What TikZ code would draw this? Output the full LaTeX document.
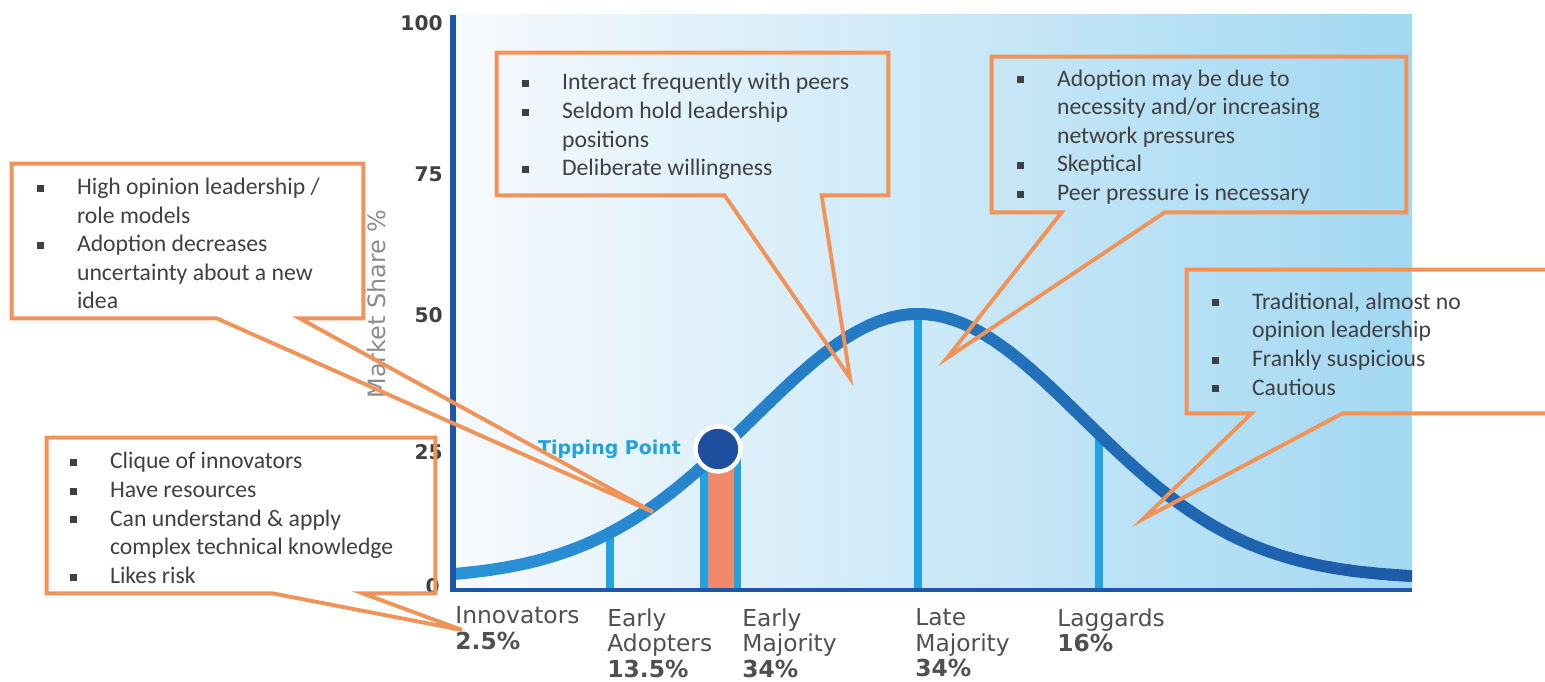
\documentclass[tikz,border=0pt]{standalone}
\usepackage{fontspec}
\setmainfont{Carlito}
\newfontfamily\chartfont{DejaVu Sans}
\usepackage{tikz}
\usetikzlibrary{calc,fit,positioning}

\definecolor{callorange}{HTML}{F19256}
\definecolor{calltext}{HTML}{404040}
\definecolor{axisblue}{HTML}{1F57A8}
\definecolor{linecyan}{HTML}{22A2DE}
\definecolor{curveL}{HTML}{2A93D8}
\definecolor{curveR}{HTML}{1D5AA8}
\definecolor{bgL}{HTML}{F7FAFD}
\definecolor{bgR}{HTML}{A2D8F2}
\definecolor{tipblue}{HTML}{1E4E9E}
\definecolor{tipbar}{HTML}{F0896A}
\definecolor{labelgray}{HTML}{505050}

\newcommand{\bul}{\makebox[22.8pt][l]{\raisebox{1.6pt}{\rule{4pt}{4pt}}}}
\newcommand{\ind}{\makebox[22.8pt]{}}

\begin{document}
\begin{tikzpicture}[x=0.02cm, y=-0.02cm,
    declare function={bell(\t)=579-265*exp(-1*((\t-918)/100)^2/5.435);},
    callout/.style={draw=callorange, line width=2.2pt, line join=miter},
    box/.style={inner sep=0pt},
    calltxt/.style={anchor=west, inner sep=0pt, align=left, text=calltext, xshift=0.5cm, yshift=-0.05cm,
      font=\fontsize{13.5}{16.3}\selectfont},
    catlabel/.style={anchor=north west, inner sep=0pt, align=left, text=labelgray,
      font=\chartfont\fontsize{13.3}{14.6}\selectfont},
    ytick/.style={anchor=east, inner sep=0pt, text=black!75,
      font=\chartfont\bfseries\fontsize{11.5}{12}\selectfont},
    curve/.style={line width=6.8pt, line cap=round},
    bar/.style={linecyan, line width=4pt}]

    \useasboundingbox (0,0) rectangle (1545,682);
    \fill[white] (0,0) rectangle (1545,682);
    \clip (0,0) rectangle (1545,682);

    % chart area
    \shade[left color=bgL, right color=bgR] (453,15) rectangle (1412,590);

    % segment lines
    \draw[bar] (610,{bell(610)}) -- (610,590);
    \draw[bar] (918,{bell(918)}) -- (918,590);
    \draw[bar] (1099,{bell(1099)}) -- (1099,590);
    \draw[bar] (704,448) -- (704,590);
    \draw[bar] (737,448) -- (737,590);
    \fill[tipbar] (707.5,455) rectangle (733.5,590);

    % bell curve
    \begin{scope}
      \clip (455,0) rectangle (1412,591);
      \foreach \i in {0,...,47}{
        \pgfmathsetmacro\xa{450+20*\i}
        \pgfmathsetmacro\xb{\xa+20}
        \pgfmathsetmacro\p{100*\i/47}
        \draw[curve, curveR!\p!curveL] plot[domain=\xa:\xb, samples=6] (\x,{bell(\x)});
      }
    \end{scope}

    % axes
    \draw[axisblue, line width=2.9pt] (453,15) -- (453,592);
    \draw[axisblue, line width=2.3pt] (451,590) -- (1412,590);

    \node[ytick] (y100) at (443,23) {100};
    \node[ytick] (y75) at (443,174) {75};
    \node[ytick] (y50) at (443,315) {50};
    \node[ytick] (y25) at (443,452) {25};
    \node[ytick] (y0) at (440,586) {0};
    \node[rotate=90, inner sep=0pt, text=black!45, font=\chartfont\fontsize{13.6}{14}\selectfont] (share) at (377,304) {Market Share \%};

    % tipping point
    \node[circle, fill=tipblue, draw=white, line width=2.5pt, minimum size=0.9cm, inner sep=0pt] (tipping) at (718,449) {};
    \node[left=0.24cm of tipping, inner sep=0pt, text=linecyan, font=\chartfont\bfseries\fontsize{10.8}{12}\selectfont] (tiplabel) {Tipping Point};

    % categories
    \node[catlabel] (inno) at (455,606) {Innovators\\\textbf{2.5\%}};
    \node[catlabel] (eadopt) at (607,608) {Early\\Adopters\\\textbf{13.5\%}};
    \node[catlabel] (emaj) at (742,608) {Early\\Majority\\\textbf{34\%}};
    \node[catlabel] (lmaj) at (915,608) {Late\\Majority\\\textbf{34\%}};
    \node[catlabel] (lagg) at (1057,608) {Laggards\\\textbf{16\%}};

    % callouts
    \node[fit={(497,53) (888,195)}, box] (peersbox) {};
    \node[calltxt] (peerstxt) at (peersbox.west) {\bul Interact frequently with peers\\ \bul Seldom hold leadership\\ \ind positions\\ \bul Deliberate willingness};

    \node[fit={(992,57) (1406,212)}, box] (latebox) {};
    \node[calltxt] (latetxt) at (latebox.west) {\bul Adoption may be due to\\ \ind necessity and/or increasing\\ \ind network pressures\\ \bul Skeptical\\ \bul Peer pressure is necessary};

    \node[fit={(1187,270) (1600,413)}, box] (laggbox) {};
    \node[calltxt] (laggtxt) at (laggbox.west) {\bul Traditional, almost no\\ \ind opinion leadership\\ \bul Frankly suspicious\\ \bul Cautious};

    \node[fit={(47,438) (435,593)}, box] (innovbox) {};
    \node[calltxt, xshift=-0.04cm] (innovtxt) at (innovbox.west) {\bul Clique of innovators\\ \bul Have resources\\ \bul Can understand \& apply\\ \ind complex technical knowledge\\ \bul Likes risk};

    \node[fit={(12,164) (363,318)}, box] (adoptbox) {};
    \node[calltxt] (adopttxt) at (adoptbox.west) {\bul High opinion leadership /\\ \ind role models\\ \bul Adoption decreases\\ \ind uncertainty about a new\\ \ind idea};

    \coordinate (peerstip) at (850,378);
    \coordinate (latetip) at (947,358);
    \coordinate (laggtip) at (1143,519);
    \coordinate (innovtip) at (462,630);
    \coordinate (adopttip) at (653,512);

    \draw[callout] (peersbox.north west) -- (peersbox.north east) -- (peersbox.south east) -- ($(peersbox.south west)+(325,0)$) -- (peerstip) -- ($(peersbox.south west)+(228,0)$) -- (peersbox.south west) -- cycle;
    \draw[callout] (latebox.north west) -- (latebox.north east) -- (latebox.south east) -- ($(latebox.south west)+(173,0)$) -- (latetip) -- ($(latebox.south west)+(70,0)$) -- (latebox.south west) -- cycle;
    \draw[callout] (laggbox.north west) -- (laggbox.north east) -- (laggbox.south east) -- ($(laggbox.south west)+(156,0)$) -- (laggtip) -- ($(laggbox.south west)+(65,0)$) -- (laggbox.south west) -- cycle;
    \draw[callout] (innovbox.north west) -- (innovbox.north east) -- (innovbox.south east) -- ($(innovbox.south west)+(316,0)$) -- (innovtip) -- ($(innovbox.south west)+(226,0)$) -- (innovbox.south west) -- cycle;
    \draw[callout] (adoptbox.north west) -- (adoptbox.north east) -- (adoptbox.south east) -- ($(adoptbox.south west)+(288,0)$) -- (adopttip) -- ($(adoptbox.south west)+(205,0)$) -- (adoptbox.south west) -- cycle;

\end{tikzpicture}
\end{document}
